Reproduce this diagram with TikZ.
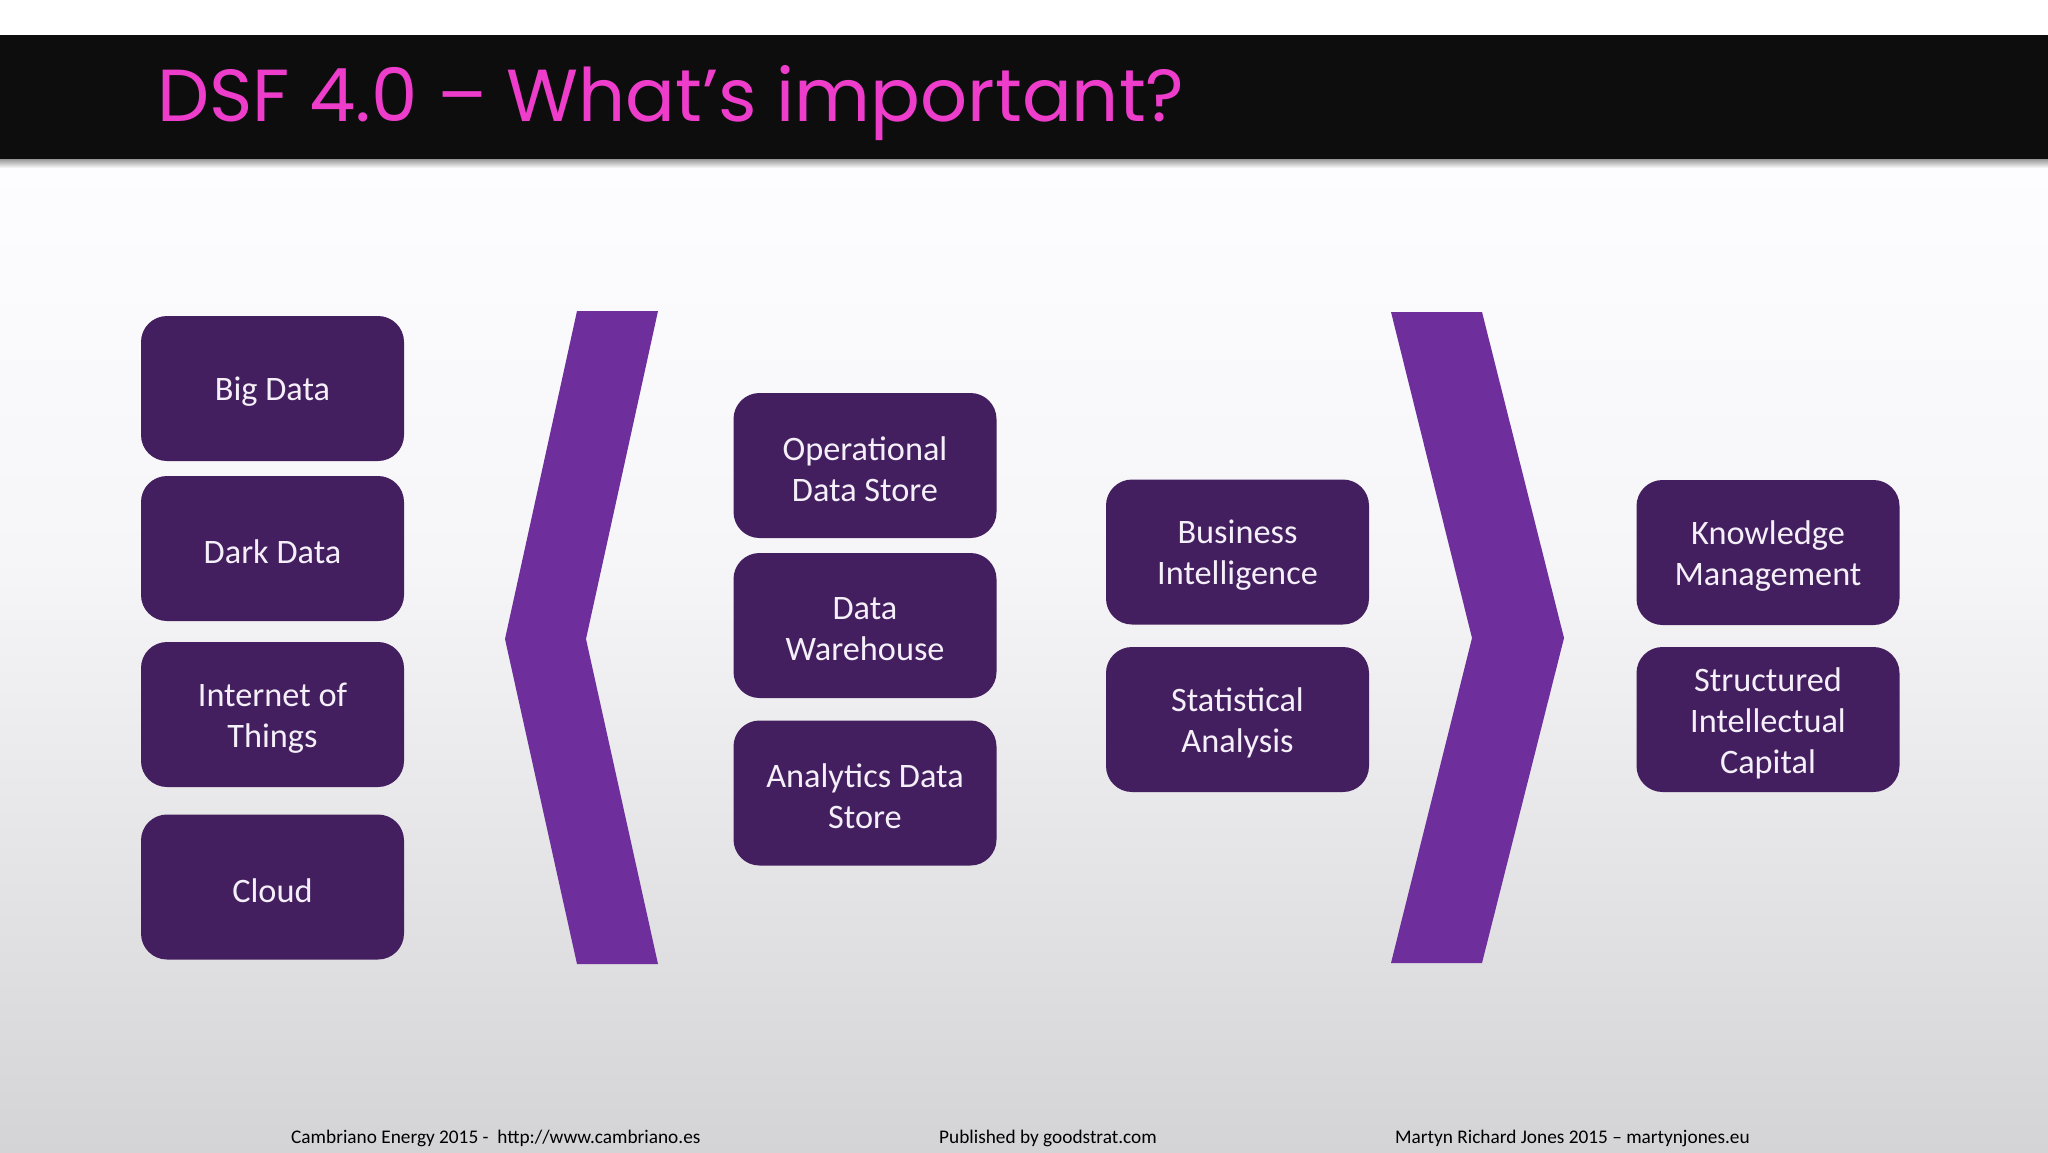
\documentclass[tikz,border=0pt]{standalone}
\usepackage{fontspec}
\setmainfont{Carlito}
\newfontfamily\titlefont{Poppins}
\definecolor{boxfill}{HTML}{431F5F}
\definecolor{chev}{HTML}{6E2F9D}
\definecolor{titlecol}{HTML}{EE3DCB}
\definecolor{band}{HTML}{0D0D0E}
\definecolor{bgtop}{HTML}{FDFCFE}
\definecolor{bgmid}{HTML}{F6F5F8}
\definecolor{bgbot}{HTML}{D4D3D6}
\definecolor{boxtext}{HTML}{F4EFF8}
\newcommand\itemnode[3]{%
  \node[itembox] (#1) at (#2) {};
  \node[itemtext] (#1-text) at ([yshift=-3.5pt]#1.center) {#3};}
\begin{document}
\begin{tikzpicture}[x=1pt,y=-1pt,
  itembox/.style={draw=none, fill=boxfill, rounded corners=26pt,
    minimum width=263pt, minimum height=145pt, inner sep=0pt},
  itemtext/.style={align=center, text=boxtext,
    font=\fontsize{34.3}{41}\selectfont, inner sep=0pt},
  chevron/.style={fill=chev, draw=none},
  footer/.style={font=\fontsize{19.3}{21}\selectfont, text=black, anchor=base west, inner sep=0pt}]
\useasboundingbox (0,0) rectangle (2048,1152);
% background
\fill[white] (0,0) rectangle (2048,1152);
\shade[top color=bgtop, bottom color=bgmid] (0,159) rectangle (2048,560);
\shade[top color=bgmid, bottom color=bgbot] (0,559.5) rectangle (2048,1152);
% band and shadow
\shade[top color=black!45, bottom color=bgtop] (0,158) rectangle (2048,168);
\fill[band] (0,35) rectangle (2048,159);
\node[anchor=base west, inner sep=0pt, text=titlecol, font=\titlefont\fontsize{73.7}{80}\selectfont] (title) at (157,121) {DSF 4.0 – What’s important?};
% chevrons
\fill[chevron] (577,311) -- (658,311) -- (586,639) -- (658,964) -- (577,964) -- (505,639) -- cycle;
\fill[chevron] (1391,312) -- (1482,312) -- (1564,638) -- (1482,963) -- (1391,963) -- (1472,638) -- cycle;
% boxes
\itemnode{bigdata}{272.5,388.5}{Big Data}
\itemnode{darkdata}{272.5,548.5}{Dark Data}
\itemnode{iot}{272.5,714.5}{Internet of\\Things}
\itemnode{cloud}{272.5,887}{Cloud}
\itemnode{ods}{865,465.5}{Operational\\Data Store}
\itemnode{dw}{865,625.5}{Data\\Warehouse}
\itemnode{ads}{865,793}{Analytics Data\\Store}
\itemnode{bi}{1237.5,552}{Business\\Intelligence}
\itemnode{sa}{1237.5,719.5}{Statistical\\Analysis}
\itemnode{km}{1768,552.5}{Knowledge\\Management}
\itemnode{sic}{1768,719.5}{Structured\\Intellectual\\Capital}
% footer
\node[footer] (f1) at (291,1143) {Cambriano Energy 2015 -\ \ http://www.cambriano.es};
\node[footer] (f2) at (939,1143) {Published by goodstrat.com};
\node[footer] (f3) at (1395,1143) {Martyn Richard Jones 2015 – martynjones.eu};
\end{tikzpicture}
\end{document}
